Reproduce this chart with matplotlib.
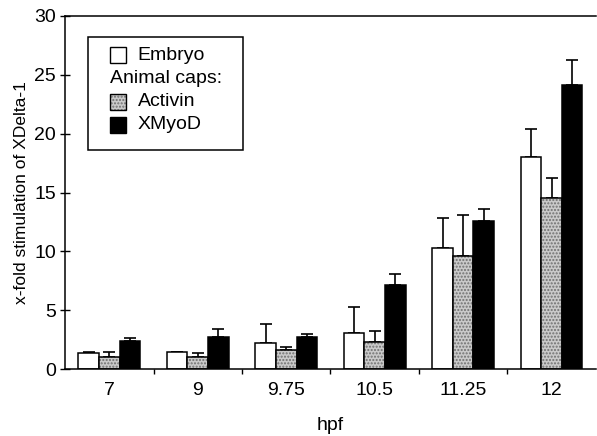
import numpy as np
import matplotlib
matplotlib.use("Agg")
import matplotlib.pyplot as plt
from matplotlib.patches import Rectangle

plt.rcParams['font.family'] = ['Liberation Sans', 'DejaVu Sans']
plt.rcParams['font.size'] = 14

# dati
stadi = ['7', '9', '9.75', '10.5', '11.25', '12']
embryo = [1.37, 1.45, 2.22, 3.12, 10.28, 18.06]
embryo_err = [1.5, 1.5, 3.87, 5.29, 12.83, 20.42]
activin = [1.07, 1.02, 1.65, 2.30, 9.65, 14.53]
activin_err = [1.5, 1.37, 1.93, 3.27, 13.1, 16.2]
xmyod = [2.41, 2.73, 2.70, 7.16, 12.63, 24.15]
xmyod_err = [2.67, 3.44, 2.99, 8.1, 13.65, 26.25]

fig = plt.figure(figsize=(5.97, 4.36), dpi=100)
ax = fig.add_axes([0.109, 0.153, 0.889, 0.8105])

x = np.arange(len(stadi)) + 0.5
w = 0.233
lw = 1.1
grigio = '#cacaca'


def barre(pos, valori, alti, stile):
    if stile == 'embryo':
        ax.bar(pos, valori, w, color='white', edgecolor='black', linewidth=lw, zorder=2)
    elif stile == 'activin':
        ax.bar(pos, valori, w, color=grigio, edgecolor='#707070', hatch='.....',
               linewidth=0, zorder=2)
        ax.bar(pos, valori, w, fill=False, edgecolor='black', linewidth=lw, zorder=3)
    else:
        ax.bar(pos, valori, w, color='black', edgecolor='black', linewidth=lw, zorder=2)
    v = np.array(valori)
    su = np.array(alti) - v
    ax.errorbar(pos, v, yerr=[np.zeros_like(v), su], fmt='none', ecolor='black',
                elinewidth=1.2, capsize=4.3, capthick=1.2, zorder=1)


barre(x - w, embryo, embryo_err, 'embryo')
barre(x, activin, activin_err, 'activin')
barre(x + w, xmyod, xmyod_err, 'xmyod')

ax.set_xlim(0, 6)
ax.set_ylim(0, 30)
ax.set_yticks(np.arange(0, 31, 5))
ax.set_xticks(np.arange(1, 6))
ax.set_xticklabels([])
ax.set_xticks(x, minor=True)
ax.set_xticklabels(stadi, minor=True)
ax.tick_params(axis='x', which='major', direction='out', length=3.5, width=1)
ax.tick_params(axis='x', which='minor', length=0, pad=9)
ax.tick_params(axis='y', direction='inout', length=7.2, width=1, pad=3)

ax.spines['right'].set_visible(False)
for s in ['left', 'top', 'bottom']:
    ax.spines[s].set_linewidth(1.1)

ax.set_xlabel('hpf', labelpad=13)
ax.set_ylabel('x-fold stimulation of XDelta-1', fontsize=12.5, labelpad=4)

# legenda fatta a mano
tr = ax.transAxes
ax.add_patch(Rectangle((0.043, 0.621), 0.292, 0.3195, transform=tr, fill=False,
                       edgecolor='black', linewidth=1.1, zorder=5))
qx, qw, qh = 0.0845, 0.030, 0.045
tx = 0.137
righe = [0.889, 0.824, 0.757, 0.692]
ax.add_patch(Rectangle((qx, righe[0] - qh / 2), qw, qh, transform=tr, facecolor='white',
                       edgecolor='black', linewidth=1.0, zorder=5))
ax.text(tx, righe[0], 'Embryo', transform=tr, va='center', ha='left', zorder=5)
ax.text(qx, righe[1], 'Animal caps:', transform=tr, va='center', ha='left', zorder=5)
ax.add_patch(Rectangle((qx, righe[2] - qh / 2), qw, qh, transform=tr, facecolor=grigio,
                       edgecolor='#707070', hatch='.....', linewidth=0, zorder=5))
ax.add_patch(Rectangle((qx, righe[2] - qh / 2), qw, qh, transform=tr, fill=False,
                       edgecolor='black', linewidth=1.0, zorder=6))
ax.text(tx, righe[2], 'Activin', transform=tr, va='center', ha='left', zorder=5)
ax.add_patch(Rectangle((qx, righe[3] - qh / 2), qw, qh, transform=tr, facecolor='black',
                       edgecolor='black', linewidth=1.0, zorder=5))
ax.text(tx, righe[3], 'XMyoD', transform=tr, va='center', ha='left', zorder=5)

fig.savefig('out.png', dpi=100)
